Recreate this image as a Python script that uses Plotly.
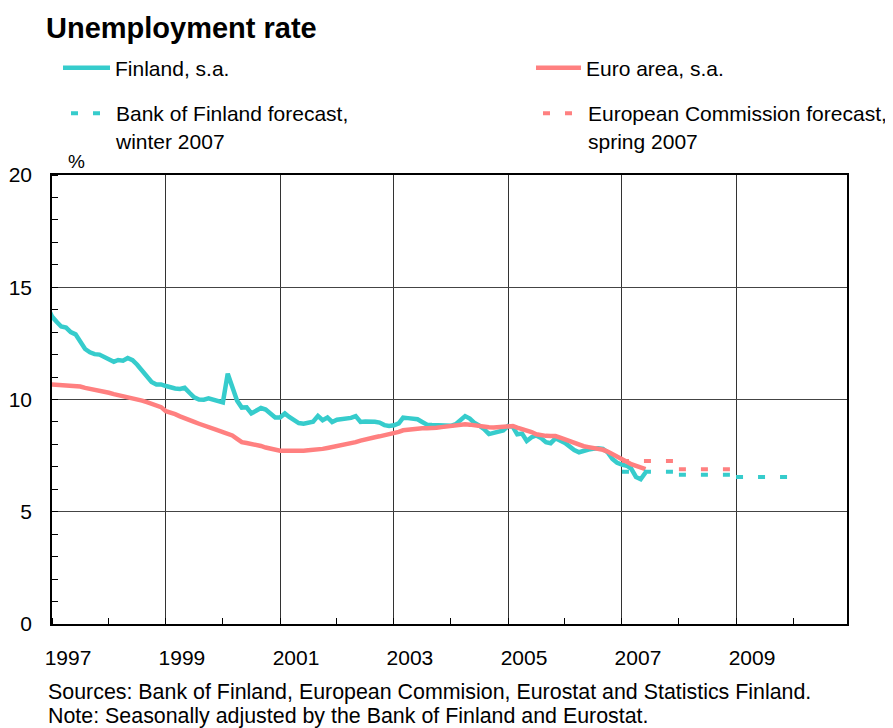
import pandas as pd
import plotly.graph_objects as go

# ---- data (monthly, Dec 1996 - Jun 2007) ----
finland = [14.15,
    13.7, 13.45, 13.25, 13.2, 13.0, 12.9, 12.6, 12.25, 12.1, 12.02, 12.0, 11.9,
    11.8, 11.68, 11.76, 11.73, 11.85, 11.75, 11.55, 11.27, 11.0, 10.78, 10.67, 10.67,
    10.6, 10.52, 10.49, 10.47, 10.52, 10.3, 10.1, 10.0, 9.99, 10.05, 10.0, 9.94,
    9.87, 11.15, 10.6, 9.95, 9.64, 9.65, 9.38, 9.5, 9.62, 9.55, 9.35, 9.2,
    9.2, 9.38, 9.22, 9.1, 8.95, 8.92, 8.95, 9.01, 9.27, 9.08, 9.2, 9.0,
    9.1, 9.12, 9.13, 9.18, 9.26, 9.0, 9.02, 9.03, 9.01, 8.97, 8.86, 8.82,
    8.85, 8.94, 9.19, 9.17, 9.16, 9.12, 9.0, 8.88, 8.86, 8.86, 8.86, 8.84,
    8.83, 8.9, 9.05, 9.26, 9.15, 8.95, 8.83, 8.68, 8.46, 8.5, 8.56, 8.62,
    8.82, 8.78, 8.45, 8.48, 8.15, 8.32, 8.4, 8.28, 8.1, 8.05, 8.27, 8.17,
    8.06, 7.9, 7.75, 7.65, 7.72, 7.77, 7.8, 7.83, 7.8, 7.65, 7.35, 7.18,
    7.1, 7.05, 6.92, 6.55, 6.45, 6.75]

euro_area = [10.68,
    10.67, 10.66, 10.65, 10.64, 10.63, 10.6, 10.58, 10.52, 10.48, 10.45, 10.42, 10.37,
    10.3, 10.24, 10.2, 10.14, 10.1, 10.05, 10.0, 9.95, 9.88, 9.82, 9.76, 9.66,
    9.48, 9.42, 9.35, 9.25, 9.15, 9.08, 9.0, 8.92, 8.83, 8.75, 8.68, 8.62,
    8.55, 8.48, 8.4, 8.25, 8.1, 8.06, 8.03, 8.0, 7.93, 7.86, 7.8, 7.76,
    7.72, 7.72, 7.71, 7.71, 7.71, 7.72, 7.74, 7.75, 7.78, 7.8, 7.84, 7.88,
    7.9, 7.95, 8.0, 8.03, 8.1, 8.17, 8.23, 8.28, 8.32, 8.36, 8.4, 8.46,
    8.5, 8.56, 8.63, 8.66, 8.69, 8.71, 8.72, 8.72, 8.72, 8.74, 8.77, 8.8,
    8.83, 8.85, 8.87, 8.9, 8.88, 8.84, 8.8, 8.78, 8.76, 8.75, 8.76, 8.78,
    8.82, 8.82, 8.75, 8.7, 8.64, 8.55, 8.45, 8.4, 8.38, 8.37, 8.37, 8.3,
    8.22, 8.17, 8.07, 7.98, 7.92, 7.88, 7.85, 7.83, 7.76, 7.68, 7.58, 7.48,
    7.35, 7.23, 7.12, 7.04, 6.96, 6.9]

start_month = "1996-12-01"

bof_years = [2007, 2008, 2009]
bof_forecast = [6.78, 6.65, 6.55]

ec_years = [2007, 2008]
ec_forecast = [7.26, 6.89]

year_ticks = [1997, 1999, 2001, 2003, 2005, 2007, 2009]

TEAL = "#36CCCC"
RED = "#FF8080"
FONT = "Liberation Sans, Arial, sans-serif"

months = pd.date_range(start_month, periods=len(finland), freq="MS")


def annual_steps(years, values):
    xs, ys = [], []
    for y, v in zip(years, values):
        xs += [f"{y}-01-01", f"{y + 1}-01-01", None]
        ys += [v, v, None]
    return xs, ys


fig = go.Figure()
fig.add_trace(go.Scatter(x=months, y=finland, mode="lines", name="Finland, s.a.",
                         line=dict(color=TEAL, width=4.5), legend="legend"))
fig.add_trace(go.Scatter(x=months, y=euro_area, mode="lines", name="Euro area, s.a.",
                         line=dict(color=RED, width=4.5), legend="legend2"))
bx, by = annual_steps(bof_years, bof_forecast)
fig.add_trace(go.Scatter(x=bx, y=by, mode="lines",
                         name="Bank of Finland forecast,<br>winter 2007",
                         line=dict(color=TEAL, width=4, dash="7px,15px"), legend="legend3"))
ex, ey = annual_steps(ec_years, ec_forecast)
fig.add_trace(go.Scatter(x=ex, y=ey, mode="lines",
                         name="European Commission forecast,<br>spring 2007",
                         line=dict(color=RED, width=4, dash="7px,15px"), legend="legend4"))

# page is offset by the browser's default 8px body margin
OFF = 8
PAGE_W, PAGE_H = 893, 728
W, H = PAGE_W - OFF, PAGE_H - OFF
PL, PR, PT, PB = 52, 847, 175, 624          # plot-area edges in page pixels
L, R, T, B = PL - OFF, PAGE_W - PR, PT - OFF, PAGE_H - PB
pw, ph = PR - PL, PB - PT


def px_x(p):
    return (p - PL) / pw


def px_y(p):
    return (PB - p) / ph


def cx(p):
    return (p - OFF) / W


def cy(p):
    return 1 - (p - OFF) / H


leg_common = dict(font=dict(family=FONT, size=21, color="#000"), bgcolor="rgba(0,0,0,0)",
                  borderwidth=0, xanchor="left", valign="top", tracegroupgap=0,
                  xref="container", yref="container")

fig.update_layout(
    width=W, height=H,
    margin=dict(l=L, r=R, t=T, b=B, pad=0, autoexpand=False),
    plot_bgcolor="white", paper_bgcolor="white",
    font=dict(family=FONT, size=21, color="#000"),
    title=dict(text="<b>Unemployment rate</b>", x=cx(46), xanchor="left",
               y=cy(28), yanchor="middle", yref="container", xref="container",
               font=dict(family=FONT, size=29, color="#000")),
    showlegend=True,
    legend=dict(**leg_common, x=cx(58), y=cy(68), yanchor="middle", itemwidth=47),
    legend2=dict(**leg_common, x=cx(531), y=cy(68), yanchor="middle", itemwidth=45),
    legend3=dict(**leg_common, x=cx(66), y=cy(93), yanchor="top", itemwidth=40),
    legend4=dict(**leg_common, x=cx(538), y=cy(93), yanchor="top", itemwidth=40),
    xaxis=dict(
        type="date", range=["1997-01-01", "2010-12-13"], automargin=False,
        tickvals=[f"{y}-01-01" for y in year_ticks], ticktext=[str(y) for y in year_ticks],
        ticks="", ticklabelshift=16, ticklabelstandoff=14,
        showgrid=True, gridcolor="#333", gridwidth=1,
        showline=True, linecolor="#000", linewidth=1.5, mirror=True,
        zeroline=False,
        minor=dict(dtick="M12", tick0="1997-01-01", ticks="inside", ticklen=6,
                   tickcolor="#000", showgrid=False),
        tickfont=dict(family=FONT, size=21),
    ),
    yaxis=dict(
        range=[0, 20], tickvals=[0, 5, 10, 15, 20], automargin=False,
        ticks="", ticklabelstandoff=14,
        showgrid=True, gridcolor="#444", gridwidth=1,
        showline=True, linecolor="#000", linewidth=1.5, mirror=True,
        zeroline=False,
        minor=dict(dtick=1, ticks="inside", ticklen=6, tickcolor="#000", showgrid=False),
        tickfont=dict(family=FONT, size=21),
    ),
)

fig.add_annotation(text="%", x=px_x(76), y=px_y(161), xref="paper", yref="paper",
                   xanchor="center", yanchor="middle",
                   showarrow=False, font=dict(family=FONT, size=19))
fig.add_annotation(text="Sources: Bank of Finland, European Commision, Eurostat and Statistics Finland.",
                   x=px_x(46), y=px_y(692), xref="paper", yref="paper", xanchor="left",
                   yanchor="middle", showarrow=False, font=dict(family=FONT, size=21.4))
fig.add_annotation(text="Note: Seasonally adjusted by the Bank of Finland and Eurostat.",
                   x=px_x(46), y=px_y(716), xref="paper", yref="paper", xanchor="left",
                   yanchor="middle", showarrow=False, font=dict(family=FONT, size=21.4))

fig.write_html("out.html")
